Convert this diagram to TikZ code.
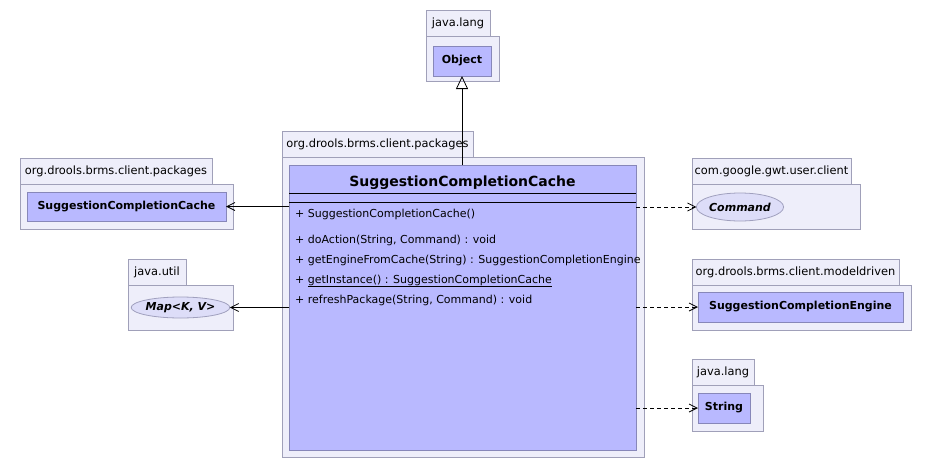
\documentclass[tikz,border=0pt]{standalone}
\usepackage{fontspec}
\setmainfont{DejaVu Sans}
\usetikzlibrary{arrows.meta,shapes.geometric}

\definecolor{pkgfill}{RGB}{238,238,250}
\definecolor{pkgline}{RGB}{160,160,185}
\definecolor{clsfill}{RGB}{185,185,255}
\definecolor{clsline}{RGB}{135,135,185}
\definecolor{ifcfill}{RGB}{221,221,248}
\definecolor{ifcline}{RGB}{160,160,190}

\tikzset{
  pkgpart/.style={draw=pkgline, fill=pkgfill, line width=0.8pt, inner sep=0pt,
    outer sep=0pt, anchor=north west, font=\fontsize{11.4}{13}\selectfont},
  classbox/.style={draw=clsline, fill=clsfill, line width=0.8pt, inner sep=0pt,
    outer sep=0pt, anchor=north west, font=\bfseries\fontsize{11}{13}\selectfont},
  iface/.style={ellipse, draw=ifcline, fill=ifcfill, line width=0.8pt, inner sep=0pt,
    outer sep=0pt, font=\bfseries\itshape\fontsize{11}{13}\selectfont},
  member/.style={anchor=base west, inner sep=0pt, font=\fontsize{11}{13}\selectfont},
  assoc/.style={draw=black, line width=0.8pt, -{Straight Barb[length=8pt,width=8pt]}},
  depend/.style={draw=black, line width=0.8pt, dash pattern=on 4pt off 3pt,
    -{Straight Barb[length=8pt,width=8pt]}},
  generalize/.style={draw=black, line width=0.8pt, -{Triangle[open,length=13pt,width=12pt]}}
}

% package: name, x, y, tab width, body width, body height, label
\newcommand{\umlpackage}[7]{%
  \node[pkgpart, minimum width=#5pt, minimum height=#6pt] (#1body) at (#2,#3+26) {};
  \node[pkgpart, minimum width=#4pt, minimum height=26pt] (#1tab) at (#2,#3) {#7};
}

\begin{document}
\begin{tikzpicture}[x=1pt,y=-1pt]
\useasboundingbox (0,0) rectangle (932,469);

% packages
\umlpackage{objpkg}{426}{10}{64}{73}{45}{java.lang}
\umlpackage{mainpkg}{282}{131}{191}{362}{300}{org.drools.brms.client.packages}
\umlpackage{leftpkg}{20}{158}{192}{213}{45}{org.drools.brms.client.packages}
\umlpackage{utilpkg}{128}{259}{58}{105}{45}{java.util}
\umlpackage{gwtpkg}{692}{158}{159}{168}{45}{com.google.gwt.user.client}
\umlpackage{mdpkg}{692}{259}{207}{219}{45}{org.drools.brms.client.modeldriven}
\umlpackage{strpkg}{692}{359}{62}{71}{46}{java.lang}

% classes and interfaces
\node[classbox, minimum width=58pt, minimum height=30pt] (obj) at (433,46) {Object};
\node[classbox, minimum width=347pt, minimum height=285pt] (main) at (289,165) {};
\node[classbox, minimum width=199pt, minimum height=29pt] (leftcls) at (27,192) {SuggestionCompletionCache};
\node[iface, minimum width=89pt, minimum height=21pt] (map) at (180.5,307.5) {Map<K, V>};
\node[iface, minimum width=84pt, minimum height=28pt] (cmd) at (740,207) {Command};
\node[classbox, minimum width=205pt, minimum height=30pt] (engine) at (698,292) {SuggestionCompletionEngine};
\node[classbox, minimum width=52pt, minimum height=30pt] (str) at (698,393) {String};

% main class contents
\node[font=\bfseries\fontsize{14}{16}\selectfont, inner sep=0pt] (title) at (462.5,183) {SuggestionCompletionCache};
\draw[line width=0.8pt] (main.west |- 0,193) -- (main.east |- 0,193);
\draw[line width=0.8pt] (main.west |- 0,202) -- (main.east |- 0,202);
\node[member] (m1) at (295,217) {+ SuggestionCompletionCache()};
\node[member] (m2) at (295,243) {+ doAction(String, Command) : void};
\node[member] (m3) at (295,263) {+ getEngineFromCache(String) : SuggestionCompletionEngine};
\node[member] (m4) at (295,283) {+ \underline{getInstance() : SuggestionCompletionCache}};
\node[member] (m5) at (295,303) {+ refreshPackage(String, Command) : void};

% relations
\draw[generalize] (obj.south |- main.north) -- (obj.south);
\draw[assoc] (main.west |- leftcls.east) -- (leftcls.east);
\draw[assoc] (main.west |- map.east) -- (map.east);
\draw[depend] (main.east |- cmd.west) -- (cmd.west);
\draw[depend] (main.east |- engine.west) -- (engine.west);
\draw[depend] (main.east |- str.west) -- (str.west);
\end{tikzpicture}
\end{document}
